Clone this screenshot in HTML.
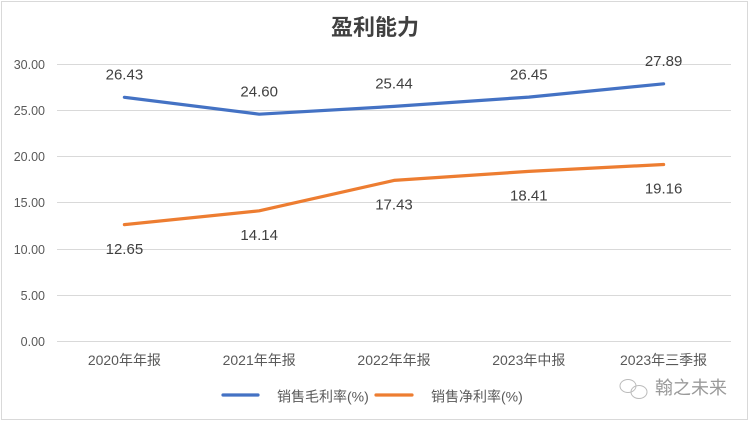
<!DOCTYPE html>
<html><head><meta charset="utf-8"><style>
html,body{margin:0;padding:0;background:#fff;}
svg{display:block;}
text{font-family:"Liberation Sans","Noto Sans CJK SC",sans-serif;}
</style></head><body>
<svg width="750" height="421" viewBox="0 0 750 421" xmlns="http://www.w3.org/2000/svg">
<rect x="1.5" y="1.5" width="746" height="418" fill="#fff" stroke="#d9d9d9" stroke-width="1"/>
<text x="375" y="35" text-anchor="middle" font-size="22" font-weight="bold" fill="#404040">盈利能力</text>
<g stroke="#d9d9d9" stroke-width="1">
<line x1="57" x2="731" y1="64.5" y2="64.5"/>
<line x1="57" x2="731" y1="110.5" y2="110.5"/>
<line x1="57" x2="731" y1="156.5" y2="156.5"/>
<line x1="57" x2="731" y1="202.5" y2="202.5"/>
<line x1="57" x2="731" y1="249.5" y2="249.5"/>
<line x1="57" x2="731" y1="295.5" y2="295.5"/>
<line x1="57" x2="731" y1="341.5" y2="341.5"/>
</g>
<g font-size="12.5" fill="#595959" text-anchor="end">
<text x="45" y="69">30.00</text>
<text x="45" y="115">25.00</text>
<text x="45" y="161">20.00</text>
<text x="45" y="207">15.00</text>
<text x="45" y="254">10.00</text>
<text x="45" y="300">5.00</text>
<text x="45" y="346">0.00</text>
</g>
<g font-size="14" fill="#595959" text-anchor="middle">
<text x="124.4" y="365">2020年年报</text>
<text x="259.2" y="365">2021年年报</text>
<text x="394" y="365">2022年年报</text>
<text x="528.8" y="365">2023年中报</text>
<text x="663.6" y="365">2023年三季报</text>
</g>
<polyline points="124.4,97.3 259.2,114.2 394,106.4 528.8,97.1 663.6,83.8" fill="none" stroke="#4472C4" stroke-width="3.2" stroke-linejoin="round" stroke-linecap="round"/>
<polyline points="124.4,224.6 259.2,210.8 394,180.4 528.8,171.4 663.6,164.5" fill="none" stroke="#ED7D31" stroke-width="3.2" stroke-linejoin="round" stroke-linecap="round"/>
<g font-size="15" fill="#404040" text-anchor="middle">
<text x="124.4" y="79.5">26.43</text>
<text x="259.2" y="96.5">24.60</text>
<text x="394" y="88.5">25.44</text>
<text x="528.8" y="79.5">26.45</text>
<text x="663.6" y="66">27.89</text>
<text x="124.4" y="254">12.65</text>
<text x="259.2" y="240">14.14</text>
<text x="394" y="209.5">17.43</text>
<text x="528.8" y="200.5">18.41</text>
<text x="663.6" y="193.5">19.16</text>
</g>
<line x1="223" x2="258" y1="395" y2="395" stroke="#4472C4" stroke-width="3.2" stroke-linecap="round"/>
<text x="277" y="401.5" font-size="14" fill="#595959">销售毛利率(%)</text>
<line x1="376" x2="412" y1="395" y2="395" stroke="#ED7D31" stroke-width="3.2" stroke-linecap="round"/>
<text x="431" y="401.5" font-size="14" fill="#595959">销售净利率(%)</text>
<g fill="none" stroke="#bbb" stroke-width="1">
<ellipse cx="628" cy="386" rx="8" ry="6.5"/>
<ellipse cx="639" cy="392" rx="8" ry="6.5"/>
</g>
<text x="655" y="394" font-size="18" fill="#9a9a9a">翰之未来</text>
</svg>
</body></html>
